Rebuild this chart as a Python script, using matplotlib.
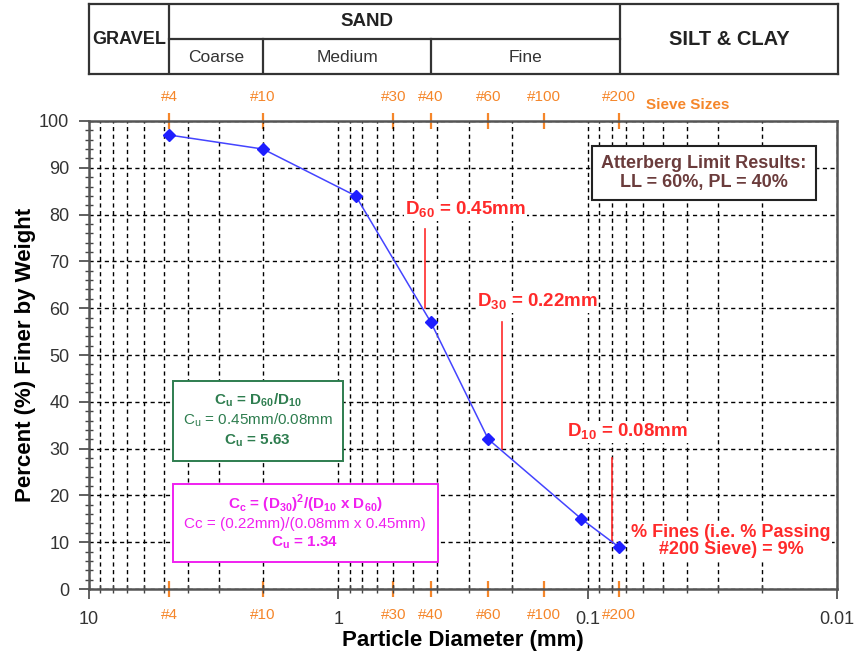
import numpy as np
import matplotlib
matplotlib.use('Agg')
from matplotlib import pyplot as plt
from matplotlib.patches import Rectangle
from matplotlib.ticker import LogLocator, NullFormatter, NullLocator, MultipleLocator

plt.rcParams['font.family'] = ['Liberation Sans', 'DejaVu Sans']
plt.rcParams['mathtext.fontset'] = 'custom'
plt.rcParams['mathtext.rm'] = 'Liberation Sans'
plt.rcParams['mathtext.bf'] = 'Liberation Sans:bold'

# gradation data
diameter_mm = [4.75, 2.0, 0.85, 0.425, 0.25, 0.106, 0.075]
pct_finer = [97, 94, 84, 57, 32, 15, 9]

# sieve sizes
sieve_mm = [4.75, 2.0, 0.6, 0.425, 0.25, 0.15, 0.075]
sieve_labels = ['#4', '#10', '#30', '#40', '#60', '#100', '#200']

# D10 / D30 / D60 markers
d_size = [0.45, 0.22, 0.08]
d_pct = [60, 30, 10]
d_top = [77, 57, 28]

# soil class table boundaries
bounds_mm = [10, 4.75, 2.0, 0.425, 0.075, 0.01]

ORANGE = '#F5862A'
RED = '#FF2A2A'
BLUE = '#1E1EFF'
GREEN = '#2E7D4F'
MAGENTA = '#F020F0'
BROWN = '#6B3C3C'
GRAY = '#444444'

fig = plt.figure(figsize=(8.57, 6.59), dpi=100)
ax = fig.add_axes([0.1035, 0.1062, 0.8732, 0.7102])

ax.set_xscale('log')
ax.set_xlim(10, 0.01)
ax.set_ylim(0, 100)

ax.set_xticks([10, 1, 0.1, 0.01], labels=['10', '1', '0.1', '0.01'])
ax.xaxis.set_minor_locator(LogLocator(base=10, subs=np.arange(2, 10)))
ax.xaxis.set_minor_formatter(NullFormatter())
ax.set_yticks(np.arange(0, 101, 10))
ax.yaxis.set_minor_locator(MultipleLocator(2))

ax.tick_params(axis='both', which='major', direction='out', length=7, width=1.2,
               colors=GRAY, labelsize=13, labelcolor='#333333')
ax.tick_params(axis='x', which='major', pad=9)
ax.tick_params(axis='y', which='major', pad=7)
ax.tick_params(axis='both', which='minor', direction='inout', length=6, width=1.0, colors=GRAY)

ax.grid(which='both', axis='x', color='black', linestyle=(0, (3, 2.5)), linewidth=1.0)
ax.grid(which='major', axis='y', color='black', linestyle=(0, (3, 2.5)), linewidth=1.0)

for s in ax.spines.values():
    s.set_color('#555555')
    s.set_linewidth(1.8)

ax.set_xlabel('Particle Diameter (mm)', fontsize=16, fontweight='bold', labelpad=1)
ax.set_ylabel('Percent (%) Finer by Weight', fontsize=16, fontweight='bold', labelpad=2)

# gradation curve
ax.plot(diameter_mm, pct_finer, color='#4444FF', linewidth=1.1, marker='D',
        markersize=6.5, markerfacecolor=BLUE, markeredgecolor=BLUE, zorder=5)

# sieve ticks, bottom and top
for side, pad in (('bottom', 8), ('top', 7)):
    sec = ax.secondary_xaxis(side)
    sec.set_xticks(sieve_mm, labels=sieve_labels)
    sec.xaxis.set_minor_locator(NullLocator())
    sec.tick_params(axis='x', which='major', direction='inout', length=11, width=1.6,
                    color=ORANGE, labelcolor=ORANGE, labelsize=11, pad=pad)
    sec.spines[side].set_visible(False)

ax.text(0.745, 1.034, 'Sieve Sizes', transform=ax.transAxes, color=ORANGE,
        fontsize=11, fontweight='bold', ha='left', va='center')

# D lines and labels
for d, p, top in zip(d_size, d_pct, d_top):
    ax.plot([d, d], [p, top], color=RED, linewidth=1.2, zorder=4)

red_kw = dict(color=RED, fontsize=13.5, fontweight='bold', va='center',
              bbox=dict(facecolor='white', edgecolor='none', pad=0.5))
ax.text(0.54, 81, r'D$_{\mathbf{60}}$ = 0.45mm', ha='left', **red_kw)
ax.text(0.278, 61.4, r'D$_{\mathbf{30}}$ = 0.22mm', ha='left', **red_kw)
ax.text(0.1205, 33.6, r'D$_{\mathbf{10}}$ = 0.08mm', ha='left', **red_kw)
red_kw['fontsize'] = 13
ax.text(0.0266, 10.3, '% Fines (i.e. % Passing\n#200 Sieve) = 9%', ha='center',
        linespacing=1.0, **red_kw)

# Atterberg box
ax.text(0.822, 0.889, 'Atterberg Limit Results:\nLL = 60%, PL = 40%', transform=ax.transAxes,
        color=BROWN, fontsize=13, fontweight='bold', ha='center', va='center',
        linespacing=1.1, zorder=6,
        bbox=dict(boxstyle='square,pad=0.5', facecolor='white', edgecolor='#222222', linewidth=1.5))

# Cu box
ax.add_patch(Rectangle((0.1123, 0.274), 0.2271, 0.171, transform=ax.transAxes,
                       facecolor='white', edgecolor=GREEN, linewidth=1.4, zorder=6))
cu_lines = [r'C$_{\mathbf{u}}$ = D$_{\mathbf{60}}$/D$_{\mathbf{10}}$',
            r'C$_\mathregular{u}$ = 0.45mm/0.08mm',
            r'C$_{\mathbf{u}}$ = 5.63']
for txt, yy, w in zip(cu_lines, [0.404, 0.361, 0.316], ['bold', 'normal', 'bold']):
    ax.text(0.226, yy, txt, transform=ax.transAxes, color=GREEN, fontsize=11, fontweight=w,
            ha='center', va='center', zorder=7)

# Cc box
ax.add_patch(Rectangle((0.1123, 0.057), 0.3541, 0.1667, transform=ax.transAxes,
                       facecolor='white', edgecolor=MAGENTA, linewidth=1.4, zorder=6))
cc_lines = [r'C$_{\mathbf{c}}$ = (D$_{\mathbf{30}}$)$^{\mathbf{2}}$/(D$_{\mathbf{10}}$ x D$_{\mathbf{60}}$)',
            'Cc = (0.22mm)/(0.08mm x 0.45mm)',
            r'C$_{\mathbf{u}}$ = 1.34']
for txt, yy, w in zip(cc_lines, [0.183, 0.139, 0.100], ['bold', 'normal', 'bold']):
    ax.text(0.289, yy, txt, transform=ax.transAxes, color=MAGENTA, fontsize=11, fontweight=w,
            ha='center', va='center', zorder=7)

# soil classification table
axt = fig.add_axes([0.1035, 0.8877, 0.8747, 0.1062])
axt.set_xscale('log')
axt.set_xlim(10, 0.01)
axt.set_ylim(0, 2)
axt.set_xticks([])
axt.set_yticks([])
axt.xaxis.set_minor_locator(NullLocator())
for s in axt.spines.values():
    s.set_color('#333333')
    s.set_linewidth(1.6)

line_kw = dict(color='#333333', linewidth=1.6)
axt.plot([bounds_mm[1]] * 2, [0, 2], **line_kw)
axt.plot([bounds_mm[4]] * 2, [0, 2], **line_kw)
axt.plot([bounds_mm[2]] * 2, [0, 1], **line_kw)
axt.plot([bounds_mm[3]] * 2, [0, 1], **line_kw)
axt.plot([bounds_mm[1], bounds_mm[4]], [1, 1], **line_kw)

def gmid(a, b):
    return np.sqrt(a * b)

axt.text(gmid(bounds_mm[0], bounds_mm[1]), 1, 'GRAVEL', fontsize=13, fontweight='bold',
         ha='center', va='center', color='#222222')
axt.text(0.767, 1.5, 'SAND', fontsize=13.5, fontweight='bold', ha='center', va='center', color='#222222')
axt.text(gmid(bounds_mm[4], bounds_mm[5]), 1, 'SILT & CLAY', fontsize=14.5, fontweight='bold',
         ha='center', va='center', color='#222222')
for name, a, b in zip(['Coarse', 'Medium', 'Fine'], bounds_mm[1:4], bounds_mm[2:5]):
    axt.text(gmid(a, b), 0.48, name, fontsize=12.5, ha='center', va='center', color='#333333')

fig.savefig('out.png', dpi=100)
